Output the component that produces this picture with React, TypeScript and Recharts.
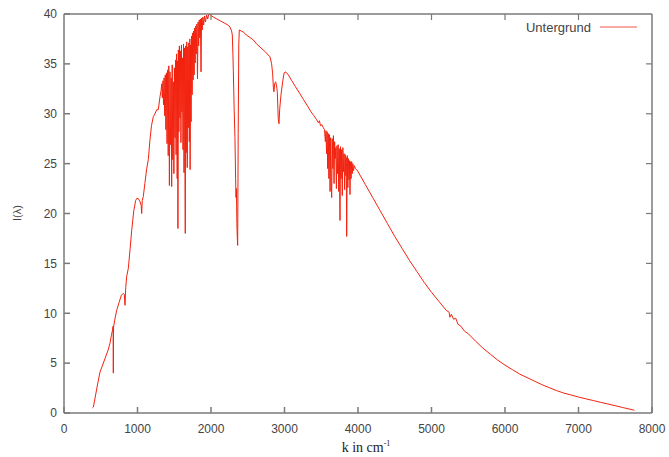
import React from 'react';
import { LineChart, Line, XAxis, YAxis, Legend, Label } from 'recharts';

// Spectrum segments: [wavenumber k (cm^-1), intensity I]
const farInfrared: [number, number][] = [
  [385, 0.5], [400, 0.6], [430, 1.8], [460, 3.0], [490, 4.1], [520, 4.7], [560, 5.5], [600, 6.3],
  [626, 7.0], [645, 7.8], [660, 8.3], [668, 8.7], [671, 4.0], [674, 8.6], [690, 9.3], [717, 10.3],
  [750, 11.1], [780, 11.8], [807, 12.0], [820, 11.9], [830, 10.8], [840, 12.6], [853, 13.7],
  [875, 14.5], [900, 16.5], [921, 18.3], [950, 20.3], [975, 21.3], [989, 21.5], [1010, 21.5],
  [1034, 21.2], [1050, 20.8], [1057, 20.0], [1065, 21.3], [1079, 21.7], [1100, 23.0], [1125, 24.5],
  [1147, 25.4], [1170, 27.4], [1190, 28.8], [1215, 29.7], [1238, 30.0], [1261, 30.4], [1283, 30.4],
  [1306, 31.7], [1320, 32.3],
];

const waterBand: [number, number][] = [
  [1330, 33.0], [1338, 31.6], [1346, 33.3], [1354, 30.9], [1362, 33.6], [1370, 29.8], [1378, 33.9],
  [1386, 28.4], [1394, 34.1], [1402, 27.0], [1410, 34.4], [1418, 25.8], [1426, 34.8], [1434, 22.8],
  [1442, 34.2], [1450, 26.9], [1458, 33.6], [1465, 22.7], [1472, 34.9], [1480, 25.4], [1488, 33.2],
  [1495, 24.0], [1502, 34.6], [1510, 27.6], [1518, 35.4], [1525, 25.9], [1532, 36.0], [1540, 23.5],
  [1546, 35.3], [1550, 18.5], [1556, 36.4], [1563, 28.2], [1570, 36.8], [1577, 29.6], [1584, 36.3],
  [1591, 27.1], [1598, 36.9], [1605, 30.2], [1612, 35.6], [1619, 26.4], [1626, 37.0], [1633, 24.1],
  [1640, 36.6], [1645, 25.6], [1650, 18.0], [1656, 36.8], [1663, 26.1], [1670, 37.2], [1677, 24.6],
  [1684, 36.7], [1691, 28.6], [1698, 37.1], [1705, 27.2], [1712, 37.5], [1716, 24.4], [1722, 36.9],
  [1729, 29.2], [1736, 37.8], [1743, 31.9], [1750, 38.1], [1757, 33.4], [1764, 38.3], [1771, 33.9],
  [1778, 38.6], [1785, 35.1], [1792, 38.8], [1800, 36.0], [1808, 39.0], [1816, 33.5], [1824, 39.2],
  [1832, 36.8], [1840, 39.4], [1848, 37.6], [1856, 39.5], [1864, 34.2], [1872, 39.6], [1880, 38.4],
  [1890, 39.7], [1900, 38.9], [1912, 39.8], [1925, 39.2], [1940, 39.9], [1955, 39.5], [1970, 40.0],
];

const co2Region: [number, number][] = [
  [1990, 39.9], [2030, 39.7], [2080, 39.5], [2130, 39.3], [2180, 39.1], [2230, 38.9], [2258, 38.7],
  [2280, 38.3], [2290, 37.9], [2298, 36.0], [2304, 34.2], [2315, 30.5], [2326, 27.6], [2335, 23.5],
  [2340, 21.6], [2346, 22.5], [2352, 19.0], [2358, 17.5], [2363, 16.8], [2370, 28.0], [2378, 37.0],
  [2385, 38.4], [2410, 38.3], [2440, 38.2], [2480, 37.9], [2520, 37.7], [2576, 37.4], [2620, 37.0],
  [2680, 36.6], [2740, 36.2], [2803, 35.7], [2825, 35.0], [2839, 34.0], [2850, 32.4], [2857, 32.2],
  [2866, 33.0], [2880, 33.2], [2892, 32.8], [2902, 32.2], [2915, 29.5], [2925, 29.0], [2935, 30.5],
  [2952, 31.9], [2975, 33.2], [2995, 34.1], [3007, 34.2], [3030, 34.1], [3052, 33.9], [3100, 33.3],
  [3150, 32.7], [3211, 32.0], [3260, 31.4], [3320, 30.7],
];

const nearBand: [number, number][] = [
  [3360, 30.2], [3400, 29.8], [3438, 29.4], [3460, 29.1], [3475, 29.3], [3490, 28.8], [3510, 28.9],
  [3528, 28.6], [3545, 28.4], [3556, 27.2], [3564, 28.3], [3572, 26.0], [3580, 28.2], [3588, 24.5],
  [3596, 28.0], [3604, 23.5], [3612, 27.9], [3620, 22.2], [3628, 27.6], [3636, 23.0], [3642, 21.6],
  [3650, 27.5], [3658, 24.5], [3666, 27.8], [3674, 23.0], [3682, 27.2], [3690, 25.5], [3698, 26.6],
  [3706, 22.5], [3714, 26.8], [3722, 24.0], [3730, 26.9], [3738, 22.2], [3746, 26.5], [3755, 19.3],
  [3762, 26.7], [3770, 23.5], [3778, 26.4], [3786, 21.8], [3794, 26.6], [3802, 24.2], [3810, 26.0],
  [3818, 22.4], [3826, 25.9], [3834, 23.8], [3840, 25.6], [3846, 17.7], [3854, 25.8], [3862, 22.6],
  [3870, 25.5], [3878, 23.4], [3885, 25.3], [3891, 21.9], [3898, 25.2], [3906, 23.5], [3914, 25.2],
  [3922, 24.0], [3930, 25.0], [3940, 24.3], [3950, 24.8], [3965, 24.5], [3982, 24.4],
];

const decline: [number, number][] = [
  [4000, 24.2], [4100, 22.9], [4200, 21.6], [4300, 20.3], [4400, 19.0], [4500, 17.7], [4600, 16.5],
  [4700, 15.3], [4800, 14.2], [4900, 13.1], [5000, 12.1], [5100, 11.2], [5200, 10.3], [5240, 10.1],
  [5250, 9.6], [5270, 9.9], [5300, 9.4], [5330, 9.5], [5360, 8.9], [5400, 8.7], [5450, 8.2],
  [5500, 7.95], [5600, 7.2], [5700, 6.5], [5800, 5.9], [5900, 5.3], [6000, 4.8], [6100, 4.35],
  [6200, 3.9], [6300, 3.55], [6400, 3.2], [6500, 2.85], [6600, 2.55], [6700, 2.25], [6800, 2.0],
  [6900, 1.8], [7000, 1.6], [7100, 1.42], [7200, 1.25], [7300, 1.07], [7400, 0.9], [7500, 0.73],
  [7600, 0.55], [7700, 0.38], [7760, 0.28],
];

const xTicks = [0, 1000, 2000, 3000, 4000, 5000, 6000, 7000, 8000];
const yTicks = [0, 5, 10, 15, 20, 25, 30, 35, 40];
const seriesName = 'Untergrund';

const X_MAX = 8000;
const Y_MAX = 40;

const chartData = [...farInfrared, ...waterBand, ...co2Region, ...nearBand, ...decline].map(
  ([k, I]) => ({ k, I })
);

// layout
const W = 669;
const H = 457;
const MARGIN = { top: 14, right: 17, bottom: 0, left: 0 };
const Y_AXIS_W = 64;
const X_AXIS_H = 44;
const PLOT_L = MARGIN.left + Y_AXIS_W;
const PLOT_R = W - MARGIN.right;
const PLOT_T = MARGIN.top;
const PLOT_B = H - MARGIN.bottom - X_AXIS_H;
const TICK = 6;

const LINE_COLOR = '#f2220f';
const AXIS_COLOR = '#7a7a7a';
const SANS = 'Liberation Sans, Arial, Helvetica, sans-serif';
const tickStyle = { fill: '#444', fontSize: 12, fontFamily: SANS };

const XLabel = () => (
  <text
    x={366}
    y={452}
    textAnchor="middle"
    fontFamily="Liberation Serif, Times New Roman, serif"
    fontSize={14}
    fill="#222"
  >
    k in cm
    <tspan dy={-6} fontSize={8}>-1</tspan>
  </text>
);

const YLabel = () => (
  <text
    x={18}
    y={213}
    transform="rotate(-90 18 213)"
    textAnchor="middle"
    dominantBaseline="middle"
    fontFamily={SANS}
    fontSize={11}
    fill="#444"
  >
    I(λ)
  </text>
);

const LegendContent = () => (
  <div
    style={{
      display: 'flex',
      alignItems: 'center',
      justifyContent: 'flex-end',
      width: 137,
      height: 18,
      fontFamily: SANS,
      fontSize: 13,
      color: '#444',
    }}
  >
    <span>{seriesName}</span>
    <svg width={37} height={6} style={{ marginLeft: 9 }}>
      <line x1={0} y1={3} x2={37} y2={3} stroke="#f3554a" strokeWidth={1} />
    </svg>
  </div>
);

// Mirrored gnuplot-style frame (top & right border with inward ticks)
const FrameOverlay = () => {
  const xs = xTicks.map((t) => PLOT_L + (t / X_MAX) * (PLOT_R - PLOT_L));
  const ys = yTicks.map((t) => PLOT_B - (t / Y_MAX) * (PLOT_B - PLOT_T));
  return (
    <svg
      width={W}
      height={H}
      style={{ position: 'absolute', left: 0, top: 0, pointerEvents: 'none' }}
    >
      <line x1={PLOT_L} y1={PLOT_T} x2={PLOT_R} y2={PLOT_T} stroke={AXIS_COLOR} strokeWidth={1.5} />
      <line x1={PLOT_R} y1={PLOT_T} x2={PLOT_R} y2={PLOT_B} stroke={AXIS_COLOR} strokeWidth={1.5} />
      {xs.slice(1, -1).map((x, i) => (
        <line key={`tx${i}`} x1={x} y1={PLOT_T} x2={x} y2={PLOT_T + TICK} stroke={AXIS_COLOR} strokeWidth={1.2} />
      ))}
      {ys.slice(1, -1).map((y, i) => (
        <line key={`ty${i}`} x1={PLOT_R} y1={y} x2={PLOT_R - TICK} y2={y} stroke={AXIS_COLOR} strokeWidth={1.2} />
      ))}
    </svg>
  );
};

export default function App() {
  return (
    <div style={{ position: 'absolute', left: 0, top: 0, width: W, height: H, background: '#fff' }}>
      <LineChart width={W} height={H} data={chartData} margin={MARGIN}>
        <XAxis
          dataKey="k"
          type="number"
          domain={[0, X_MAX]}
          ticks={xTicks}
          allowDataOverflow
          interval={0}
          height={X_AXIS_H}
          tickSize={-TICK}
          tickMargin={17}
          stroke={AXIS_COLOR}
          strokeWidth={1.5}
          tick={tickStyle}
        >
          <Label content={XLabel} />
        </XAxis>
        <YAxis
          type="number"
          domain={[0, Y_MAX]}
          ticks={yTicks}
          allowDataOverflow
          interval={0}
          width={Y_AXIS_W}
          tickSize={-TICK}
          tickMargin={13}
          stroke={AXIS_COLOR}
          strokeWidth={1.5}
          tick={tickStyle}
        >
          <Label content={YLabel} />
        </YAxis>
        <Legend
          layout="horizontal"
          verticalAlign="middle"
          align="center"
          wrapperStyle={{ top: 18, left: 500, width: 137, height: 18 }}
          content={LegendContent}
        />
        <Line
          type="linear"
          dataKey="I"
          name={seriesName}
          stroke={LINE_COLOR}
          strokeWidth={1}
          dot={false}
          activeDot={false}
          isAnimationActive={false}
        />
      </LineChart>
      <FrameOverlay />
    </div>
  );
}
